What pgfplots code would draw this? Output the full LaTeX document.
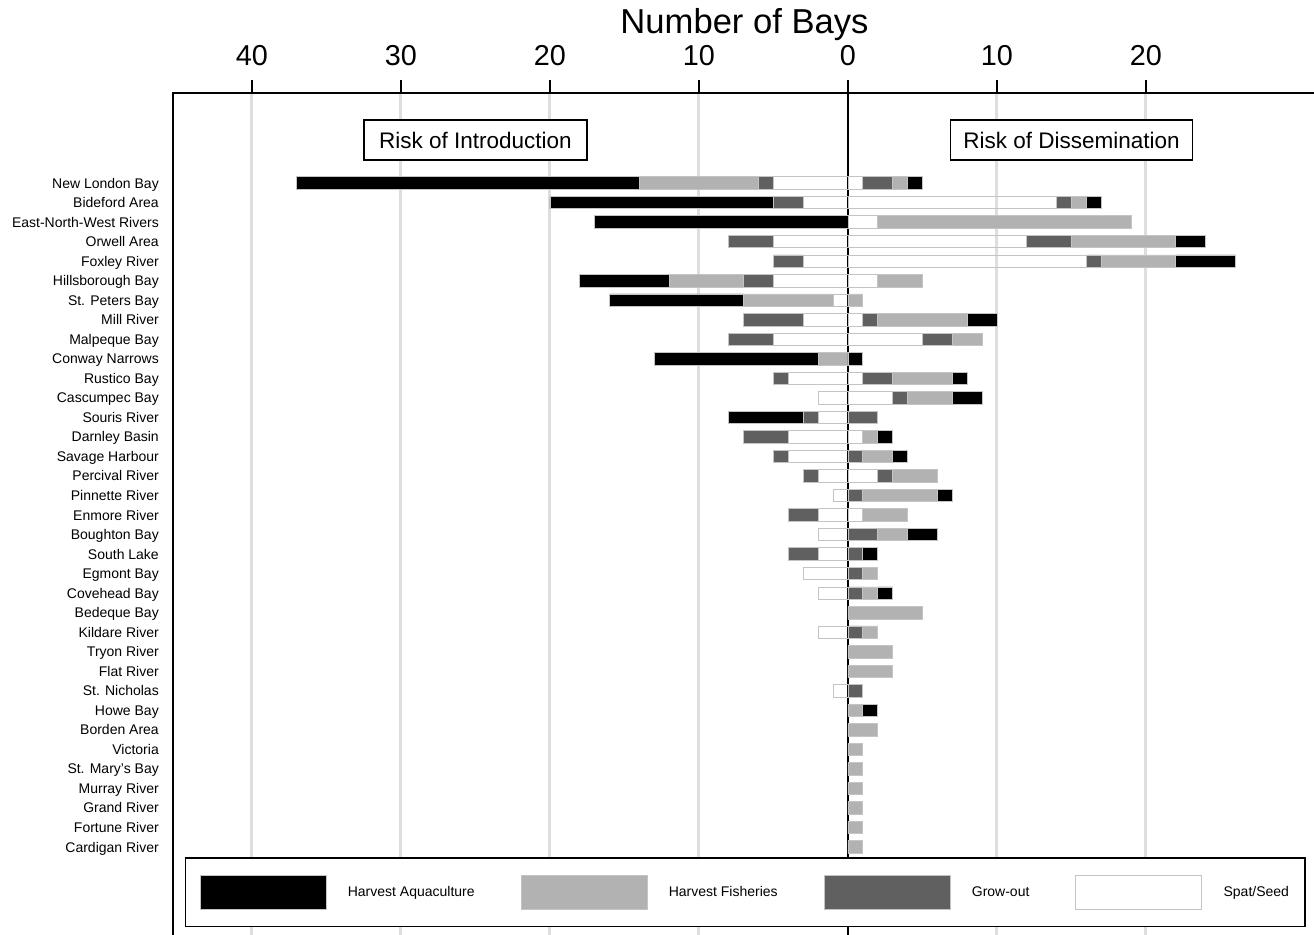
\documentclass[border=0pt]{standalone}
\usepackage{pgfplots}
\pgfplotsset{compat=1.18}
\usepackage{pgfplotstable}
\usepackage{fontspec}
\setmainfont{Liberation Sans}
\definecolor{fishc}{HTML}{B2B2B2}
\definecolor{growc}{HTML}{606060}
\definecolor{edgec}{HTML}{C4C4C4}
\definecolor{gridc}{HTML}{DEDEDE}

% columns: sl gl fl al = Spat/Seed, Grow-out, Harvest Fisheries, Harvest Aquaculture (introduction, negative)
%          sr gr fr ar = same categories (dissemination, positive)
\pgfplotstableread{
y sl gl fl al sr gr fr ar
0 -5 -1 -8 -23 1 2 1 1
1 -3 -2 0 -15 14 1 1 1
2 0 0 0 -17 2 0 17 0
3 -5 -3 0 0 12 3 7 2
4 -3 -2 0 0 16 1 5 4
5 -5 -2 -5 -6 2 0 3 0
6 -1 0 -6 -9 0 0 1 0
7 -3 -4 0 0 1 1 6 2
8 -5 -3 0 0 5 2 2 0
9 0 0 -2 -11 0 0 0 1
10 -4 -1 0 0 1 2 4 1
11 -2 0 0 0 3 1 3 2
12 -2 -1 0 -5 0 2 0 0
13 -4 -3 0 0 1 0 1 1
14 -4 -1 0 0 0 1 2 1
15 -2 -1 0 0 2 1 3 0
16 -1 0 0 0 0 1 5 1
17 -2 -2 0 0 1 0 3 0
18 -2 0 0 0 0 2 2 2
19 -2 -2 0 0 0 1 0 1
20 -3 0 0 0 0 1 1 0
21 -2 0 0 0 0 1 1 1
22 0 0 0 0 0 0 5 0
23 -2 0 0 0 0 1 1 0
24 0 0 0 0 0 0 3 0
25 0 0 0 0 0 0 3 0
26 -1 0 0 0 0 1 0 0
27 0 0 0 0 0 0 1 1
28 0 0 0 0 0 0 2 0
29 0 0 0 0 0 0 1 0
30 0 0 0 0 0 0 1 0
31 0 0 0 0 0 0 1 0
32 0 0 0 0 0 0 1 0
33 0 0 0 0 0 0 1 0
34 0 0 0 0 0 0 1 0
}\bays

\pgfplotsset{baystyle/.style={
  scale only axis, width=1143pt, height=847pt,
  xmin=-45.3, xmax=31.41, ymin=-4.61, ymax=38.76, y dir=reverse,
  at={(0pt,0pt)}, anchor=north west,
  xbar stacked, bar width=0.64,
}}
\newcommand\legswatch[1]{\draw[fill=#1,draw=edgec,line width=0.8pt] (0pt,-17pt) rectangle (126pt,17pt); \path (145pt,0pt);}

\begin{document}
\begin{tikzpicture}
\begin{axis}[baystyle, name=main,
  axis line style={black, line width=2pt},
  xtick={-40,-30,-20,-10,10,20}, xticklabels={40,30,20,10,10,20},
  extra x ticks={0}, extra x tick labels={0},
  extra x tick style={major grid style={black, line width=1.6pt}},
  xticklabel pos=right, xtick pos=right,
  tick align=outside, major tick length=13pt,
  xtick style={black, line width=1.2pt},
  xmajorgrids, major grid style={gridc, line width=3pt},
  xticklabel style={font=\fontsize{28.8}{30}\selectfont, inner sep=0pt, yshift=14pt},
  ytick={0,...,34},
  yticklabels={New London Bay,Bideford Area,East-North-West Rivers,Orwell Area,Foxley River,Hillsborough Bay,St. Peters Bay,Mill River,Malpeque Bay,Conway Narrows,Rustico Bay,Cascumpec Bay,Souris River,Darnley Basin,Savage Harbour,Percival River,Pinnette River,Enmore River,Boughton Bay,South Lake,Egmont Bay,Covehead Bay,Bedeque Bay,Kildare River,Tryon River,Flat River,St. Nicholas,Howe Bay,Borden Area,Victoria,St. Mary's Bay,Murray River,Grand River,Fortune River,Cardigan River},
  ytick style={draw=none},
  yticklabel style={font=\fontsize{14}{16}\selectfont, inner sep=0pt, xshift=-1pt, yshift=-1.5pt, text height=10pt, text depth=3pt},
]
\addplot[fill=none, draw=edgec, line width=0.8pt] table[x=sl, y=y]{\bays};
\addplot[fill=growc, draw=edgec, line width=0.8pt] table[x=gl, y=y]{\bays};
\addplot[fill=fishc, draw=edgec, line width=0.8pt] table[x=fl, y=y]{\bays};
\addplot[fill=black, draw=edgec, line width=0.8pt] table[x=al, y=y]{\bays};
\node[draw=black, line width=1.5pt, fill=white, inner xsep=15pt, minimum height=40pt, font=\fontsize{22.5}{24}\selectfont] at (axis cs:-25,-2.2) {Risk of Introduction};
\node[draw=black, line width=1.5pt, fill=white, inner xsep=13pt, minimum height=40pt, font=\fontsize{22.5}{24}\selectfont] at (axis cs:15,-2.2) {Risk of Dissemination};
\end{axis}
\begin{axis}[baystyle, hide axis, legend columns=4,
  legend style={at={(axis cs:-44.5,34.51)}, anchor=north west, draw=black, line width=1.5pt, fill=white,
    inner xsep=14pt, inner ysep=17pt, font=\fontsize{14}{16}\selectfont,
    /tikz/every even column/.append style={column sep=44pt}},
]
\addplot[forget plot, fill=none, draw=edgec, line width=0.8pt] table[x=sr, y=y]{\bays};
\addplot[forget plot, fill=growc, draw=edgec, line width=0.8pt] table[x=gr, y=y]{\bays};
\addplot[forget plot, fill=fishc, draw=edgec, line width=0.8pt] table[x=fr, y=y]{\bays};
\addplot[forget plot, fill=black, draw=edgec, line width=0.8pt] table[x=ar, y=y]{\bays};
\addlegendimage{legend image code/.code={\legswatch{black}}}
\addlegendentry{Harvest Aquaculture}
\addlegendimage{legend image code/.code={\legswatch{fishc}}}
\addlegendentry{Harvest Fisheries}
\addlegendimage{legend image code/.code={\legswatch{growc}}}
\addlegendentry{Grow-out}
\addlegendimage{legend image code/.code={\legswatch{white}}}
\addlegendentry{Spat/Seed}
\end{axis}
\node[anchor=base, font=\fontsize{34.6}{36}\selectfont] at (571.5pt,59pt) {Number of Bays};
\pgfresetboundingbox
\useasboundingbox (-173pt,-841pt) rectangle (1141pt,93pt);
\end{tikzpicture}
\end{document}
